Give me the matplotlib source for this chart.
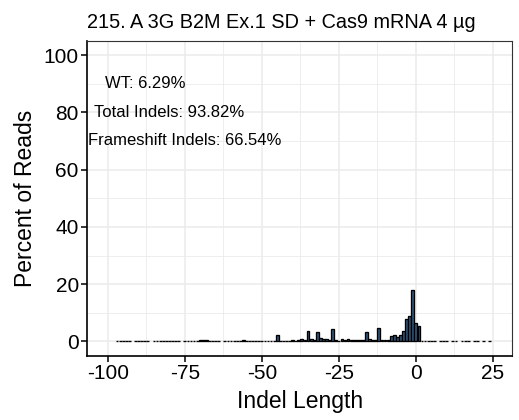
import numpy as np
import matplotlib
matplotlib.use('Agg')
import matplotlib.pyplot as plt
from matplotlib.ticker import MultipleLocator

plt.rcParams['font.family'] = ['Liberation Sans', 'DejaVu Sans']
plt.rcParams['axes.unicode_minus'] = False

# Indel length (bp) and percent of reads
indel_length = [-97, -96, -95, -94, -93, -91, -90, -89, -88, -87,
                -85, -84, -83, -82, -81, -80, -79, -78, -77,
                -75, -74, -73, -72, -71, -70, -69, -68, -67, -66, -65, -64,
                -62, -61, -60, -59, -58, -57, -56, -55, -54, -53, -52, -51,
                -50, -49, -48, -47, -46, -45, -44, -43, -42, -41, -40, -39,
                -38, -37, -36, -35, -34, -33, -32, -31, -30, -29, -28, -27,
                -26, -25, -24, -23, -22, -21, -20, -19, -18, -17, -16, -15,
                -14, -13, -12, -11, -10, -9, -8, -7, -6, -5, -4, -3, -2, -1,
                0, 1, 2, 3, 4, 5, 6, 8, 9, 10, 12, 13, 15, 16, 17, 19, 20, 22, 24]
percent = [0.05, 0.05, 0.05, 0.05, 0.05, 0.05, 0.05, 0.05, 0.05, 0.05,
           0.05, 0.05, 0.05, 0.05, 0.05, 0.05, 0.05, 0.05, 0.05,
           0.05, 0.05, 0.05, 0.1, 0.1, 0.4, 0.6, 0.5, 0.3, 0.1, 0.05, 0.05,
           0.05, 0.05, 0.05, 0.1, 0.1, 0.3, 0.5, 0.3, 0.1, 0.1, 0.1, 0.1,
           0.1, 0.1, 0.2, 0.3, 0.3, 2.2, 0.3, 0.2, 0.3, 0.3, 0.4, 0.3,
           0.5, 1.0, 0.5, 3.8, 0.9, 0.6, 3.4, 1.3, 0.8, 0.7, 0.5, 4.3,
           0.5, 0.3, 0.8, 0.5, 1.0, 0.5, 0.4, 0.5, 0.4, 0.5, 3.4, 1.0,
           0.5, 0.5, 4.7, 0.6, 0.6, 0.6, 2.0, 2.4, 1.5, 2.4, 3.6, 8.0, 8.9, 18.0,
           6.29, 5.4, 0.05, 0.05, 0.05, 0.05, 0.05, 0.0, 0.0, 0.0, 0.0, 0.0, 0.0, 0.0, 0.0, 0.0, 0.0, 0.0, 0.0]

annotations = ['WT: 6.29%', 'Total Indels: 93.82%', 'Frameshift Indels: 66.54%']
annot_x = [-88, -80, -75]
annot_y = [90, 80, 70]

title = '215. A 3G B2M Ex.1 SD + Cas9 mRNA 4 µg'

fig = plt.figure(figsize=(5.19, 4.2), dpi=100)
ax = fig.add_axes([0.168, 0.153, 0.819, 0.75])

ax.bar(indel_length, percent, width=0.9, color='#34557A', edgecolor='black', linewidth=0.95, zorder=3)

for txt, x, y in zip(annotations, annot_x, annot_y):
    ax.text(x, y, txt, ha='center', va='center', fontsize=12, color='black', zorder=4)

ax.set_xlim(-106.7, 31.3)
ax.set_ylim(-5, 105)
ax.xaxis.set_major_locator(MultipleLocator(25))
ax.xaxis.set_minor_locator(MultipleLocator(12.5))
ax.yaxis.set_major_locator(MultipleLocator(20))
ax.yaxis.set_minor_locator(MultipleLocator(10))

ax.grid(which='major', color='#EBEBEB', linewidth=1.1, zorder=0)
ax.grid(which='minor', color='#EBEBEB', linewidth=0.6, zorder=0)
ax.set_axisbelow(True)

for side in ['top', 'right']:
    ax.spines[side].set_color('#333333')
    ax.spines[side].set_linewidth(0.8)
for side in ['left', 'bottom']:
    ax.spines[side].set_color('black')
    ax.spines[side].set_linewidth(1.2)

ax.tick_params(which='major', direction='out', length=4, width=1.1, color='black', labelsize=15, labelcolor='black', pad=2)
ax.tick_params(which='minor', length=0)

ax.set_xlabel('Indel Length', fontsize=16.5, labelpad=5)
ax.set_ylabel('Percent of Reads', fontsize=16.5, labelpad=5)
ax.set_title(title, fontsize=14.3, loc='left', pad=9)

fig.savefig('out.png', dpi=100)
